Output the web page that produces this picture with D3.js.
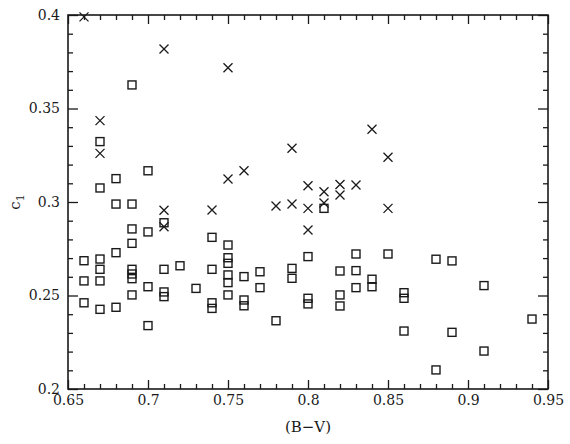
<!doctype html>
<html lang="en">
<head>
<meta charset="UTF-8">
<title>c1 vs (B-V)</title>
<script src="https://cdn.jsdelivr.net/npm/d3@7"></script>
<style>
    body { margin: 0; background: #fff; }
    svg { display: block; }
    text { font-family: "DejaVu Serif", serif; fill: #1a1a1a; }
</style>
</head>
<body>
<svg width="570" height="444"></svg>
<script>
    // squares
    const sqBV = [0.66, 0.66, 0.66,
        0.67, 0.67, 0.67, 0.67, 0.67, 0.67,
        0.68, 0.68, 0.68, 0.68,
        0.69, 0.69, 0.69, 0.69, 0.69, 0.69, 0.69, 0.69,
        0.70, 0.70, 0.70, 0.70,
        0.71, 0.71, 0.71, 0.71,
        0.72, 0.73,
        0.74, 0.74, 0.74, 0.74,
        0.75, 0.75, 0.75, 0.75, 0.75, 0.75,
        0.76, 0.76, 0.76,
        0.77, 0.77, 0.78, 0.79, 0.79,
        0.80, 0.80, 0.80, 0.81,
        0.82, 0.82, 0.82,
        0.83, 0.83, 0.83,
        0.84, 0.84, 0.85,
        0.86, 0.86, 0.86,
        0.88, 0.88, 0.89, 0.89, 0.91, 0.91, 0.94];
    const sqC1 = [0.2686, 0.2578, 0.2461,
        0.3323, 0.3075, 0.2695, 0.264, 0.2578, 0.2426,
        0.3125, 0.2989, 0.2729, 0.2437,
        0.3626, 0.2989, 0.2856, 0.2779, 0.264, 0.2615, 0.259, 0.2503,
        0.3167, 0.284, 0.2547, 0.2339,
        0.2889, 0.264, 0.2519, 0.2494,
        0.2659, 0.2538,
        0.2811, 0.264, 0.2461, 0.2431,
        0.277, 0.2702, 0.2672, 0.261, 0.2569, 0.2503,
        0.2601, 0.2476, 0.2445,
        0.2627, 0.2542, 0.2365, 0.2645, 0.2592,
        0.2708, 0.2485, 0.2455, 0.2966,
        0.2631, 0.2503, 0.2444,
        0.2722, 0.2633, 0.2542,
        0.2587, 0.2547, 0.2722,
        0.2515, 0.2485, 0.231,
        0.2694, 0.2102, 0.2685, 0.2303, 0.2553, 0.2203, 0.2374];

    // crosses
    const crBV = [0.66, 0.67, 0.67, 0.71, 0.71, 0.71, 0.74, 0.75, 0.75, 0.76, 0.78,
        0.79, 0.79, 0.80, 0.80, 0.80, 0.81, 0.81, 0.82, 0.82, 0.83, 0.84, 0.85, 0.85];
    const crC1 = [0.399, 0.3435, 0.326, 0.3818, 0.2956, 0.2868, 0.2957, 0.3718, 0.3123, 0.3167, 0.2979,
        0.3287, 0.2989, 0.3087, 0.2966, 0.285, 0.3055, 0.2995, 0.3094, 0.3037, 0.3091, 0.3389, 0.3239, 0.2966];

    const xLabels = ['0.65', '0.7', '0.75', '0.8', '0.85', '0.9', '0.95'];
    const yLabels = ['0.2', '0.25', '0.3', '0.35', '0.4'];

    const svg = d3.select('svg');
    const mLeft = 68, mRight = 548, mTop = 15, mBottom = 389;
    const ink = '#1a1a1a';

    const x = d3.scaleLinear().domain([0.65, 0.95]).range([mLeft, mRight]);
    const y = d3.scaleLinear().domain([0.2, 0.4]).range([mBottom, mTop]);

    const xMajor = xLabels.map(Number);
    const yMajor = yLabels.map(Number);
    const xMinor = d3.range(66, 95).map(v => v / 100).filter(v => v % 5 !== 0 || false)
        .filter(v => Math.round(v * 100) % 5 !== 0);
    const yMinor = d3.range(21, 40).map(v => v / 100).filter(v => Math.round(v * 100) % 5 !== 0);

    function addAxis(axis, tx, ty, vals, len, fmt) {
        const g = svg.append('g')
            .attr('transform', `translate(${tx}, ${ty})`)
            .call(axis.tickValues(vals).tickSize(-len).tickSizeOuter(0).tickFormat(fmt || (() => '')));
        g.select('.domain').remove();
        return g;
    }

    // bottom
    const gb = addAxis(d3.axisBottom(x), 0, mBottom, xMajor, 9, (d, i) => xLabels[i]);
    gb.selectAll('text').attr('y', 16).attr('dy', 0).style('font-size', '14px')
        .style('font-family', '"DejaVu Serif", serif').attr('fill', ink);
    addAxis(d3.axisBottom(x), 0, mBottom, xMinor, 5);
    // top
    addAxis(d3.axisTop(x), 0, mTop, xMajor, 9);
    addAxis(d3.axisTop(x), 0, mTop, xMinor, 5);
    // left
    const gl = addAxis(d3.axisLeft(y), mLeft, 0, yMajor, 10, (d, i) => yLabels[i]);
    gl.selectAll('text').attr('x', -8).style('font-size', '14px')
        .style('font-family', '"DejaVu Serif", serif').attr('fill', ink);
    addAxis(d3.axisLeft(y), mLeft, 0, yMinor, 5);
    // right
    addAxis(d3.axisRight(y), mRight, 0, yMajor, 10);
    addAxis(d3.axisRight(y), mRight, 0, yMinor, 5);

    svg.selectAll('.tick line').attr('stroke', ink).attr('stroke-width', 1.3);

    // frame
    svg.append('rect')
        .attr('x', mLeft).attr('y', mTop)
        .attr('width', mRight - mLeft).attr('height', mBottom - mTop)
        .attr('fill', 'none').attr('stroke', ink).attr('stroke-width', 1.6);

    // squares
    const s = 4;
    svg.append('g').selectAll('rect')
        .data(sqBV.map((b, i) => [b, sqC1[i]]))
        .enter().append('rect')
        .attr('x', d => x(d[0]) - s)
        .attr('y', d => y(d[1]) - s)
        .attr('width', 2 * s).attr('height', 2 * s)
        .attr('fill', 'none').attr('stroke', ink).attr('stroke-width', 1.4);

    // crosses
    const c = 4.5;
    svg.append('g').selectAll('path')
        .data(crBV.map((b, i) => [b, crC1[i]]))
        .enter().append('path')
        .attr('d', d => {
            const px = x(d[0]), py = y(d[1]);
            return `M${px - c},${py - c}L${px + c},${py + c}M${px - c},${py + c}L${px + c},${py - c}`;
        })
        .attr('stroke', ink).attr('stroke-width', 1.3).attr('fill', 'none');

    // axis titles
    svg.append('text')
        .attr('x', (mLeft + mRight) / 2).attr('y', 432)
        .attr('text-anchor', 'middle')
        .style('font-size', '15px')
        .text('(B\u2212V)');

    const yt = svg.append('text')
        .attr('transform', `translate(20, ${(mTop + mBottom) / 2}) rotate(-90)`)
        .attr('text-anchor', 'middle')
        .style('font-size', '15px');
    yt.append('tspan').text('c');
    yt.append('tspan').attr('dy', 4).style('font-size', '11px').text('1');
</script>
</body>
</html>
